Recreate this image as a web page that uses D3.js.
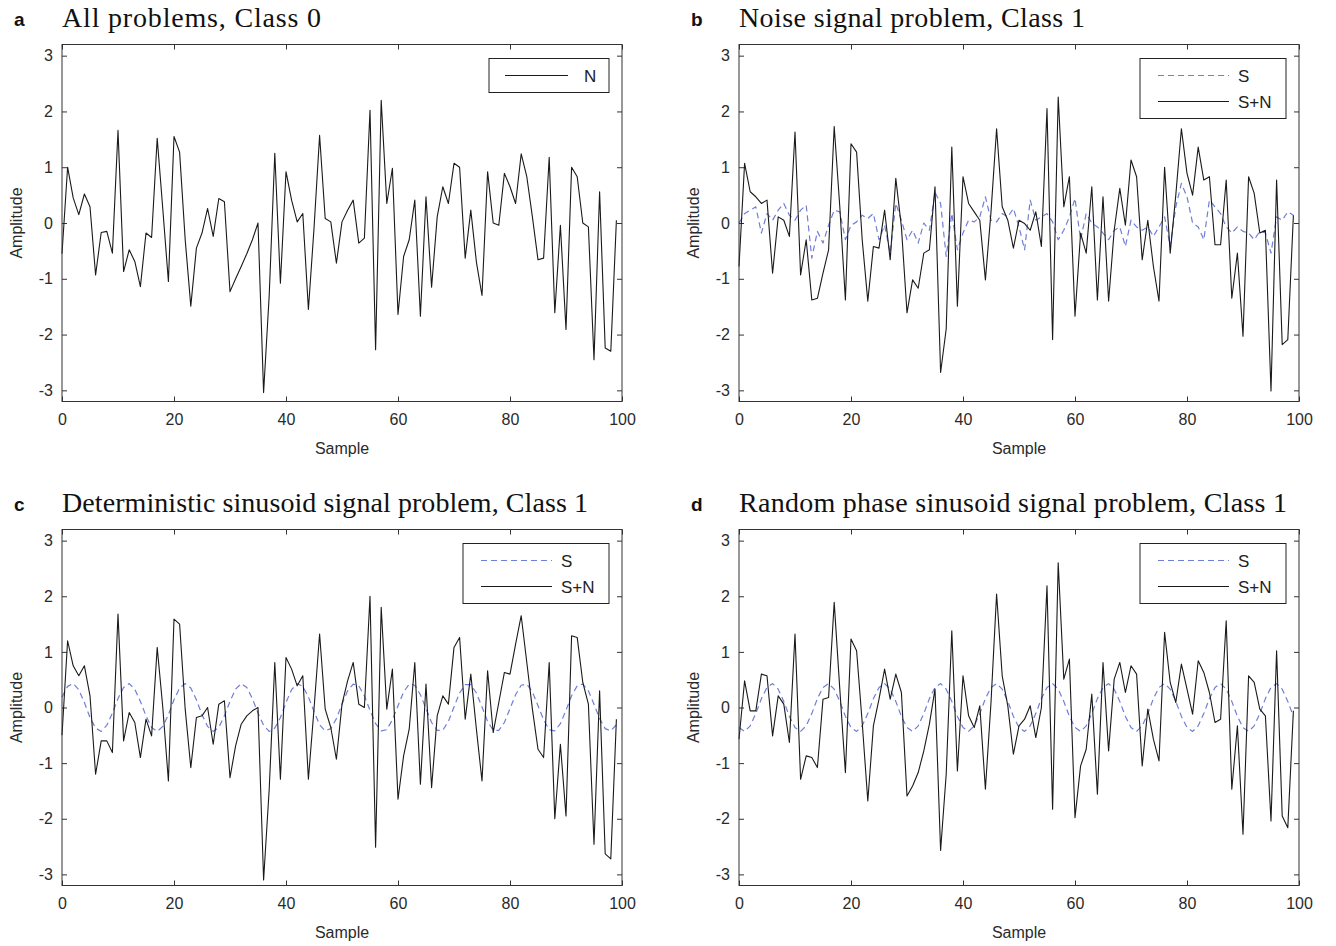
<!DOCTYPE html>
<html>
<head>
<meta charset="utf-8">
<script src="https://cdn.jsdelivr.net/npm/d3@7"></script>
<style>
  body { margin: 0; background: #fff; }
  svg text { font-family: "Liberation Sans", Arial, sans-serif; }
</style>
</head>
<body>
<svg id="chart"></svg>
<script>
// ---- data (one value per sample, samples 0..99) ----
const noiseA = [
  -0.55, 1.0, 0.45, 0.15, 0.52, 0.29, -0.93, -0.17, -0.15, -0.54,
  1.66, -0.87, -0.48, -0.69, -1.14, -0.18, -0.26, 1.52, 0.25, -1.05,
  1.55, 1.27, -0.3, -1.49, -0.45, -0.18, 0.26, -0.24, 0.44, 0.38,
  -1.23, -1.0, -0.78, -0.55, -0.3, 0.0, -3.04, -1.3, 1.25, -1.08,
  0.92, 0.41, 0.02, 0.17, -1.55, -0.1, 1.57, 0.08, 0.02, -0.72,
  0.02, 0.23, 0.41, -0.36, -0.27, 2.02, -2.27, 2.2, 0.35, 0.98,
  -1.64, -0.6, -0.3, 0.41, -1.67, 0.47, -1.15, 0.11, 0.65, 0.35,
  1.07, 1.0, -0.63, 0.23, -0.7, -1.3, 0.92, 0.0, -0.04, 0.89,
  0.65, 0.35, 1.24, 0.83, 0.11, -0.66, -0.63, 1.18, -1.61, -0.04,
  -1.91, 1.0, 0.83, 0.0, -0.07, -2.45, 0.56, -2.24, -2.3, 0.05
];

const signalB = [
  0.0, 0.17, 0.23, 0.29, -0.18, 0.17, 0.05, 0.23, 0.35, 0.14,
  0.05, 0.23, 0.32, -0.63, -0.15, -0.36, -0.04, 0.23, 0.2, -0.3,
  -0.04, 0.02, 0.14, 0.08, 0.17, -0.3, -0.04, -0.54, 0.35, 0.05,
  -0.3, -0.13, -0.36, 0.0, -0.13, 0.55, 0.35, -0.6, 0.17, -0.48,
  -0.18, 0.05, 0.02, 0.11, 0.47, 0.05, 0.02, 0.17, 0.11, 0.26,
  -0.07, -0.48, 0.41, 0.05, 0.11, 0.17, 0.02, -0.3, -0.13, 0.11,
  0.44, -0.3, 0.17, 0.0, -0.07, -0.18, -0.3, -0.13, -0.07, -0.42,
  0.05, -0.07, -0.13, -0.07, -0.24, -0.07, 0.11, -0.42, 0.29, 0.71,
  0.47, 0.0, -0.07, -0.3, 0.41, 0.29, 0.17, -0.07, -0.18, -0.07,
  -0.15, -0.18, -0.3, -0.15, -0.18, -0.54, 0.11, 0.05, 0.2, 0.14
];

const mixB = [
  -0.78, 1.07, 0.56, 0.47, 0.35, 0.41, -0.9, 0.11, 0.05, -0.24,
  1.63, -0.93, -0.3, -1.38, -1.35, -0.9, -0.48, 1.73, 0.29, -1.38,
  1.42, 1.27, -0.3, -1.4, -0.42, -0.45, 0.23, -0.66, 0.8, -0.07,
  -1.61, -1.02, -1.17, -0.54, -0.48, 0.65, -2.68, -1.9, 1.36, -1.49,
  0.83, 0.35, 0.2, 0.05, -1.02, 0.2, 1.69, 0.29, 0.05, -0.45,
  0.05, -0.01, -0.13, 0.2, -0.42, 2.05, -2.09, 2.26, 0.29, 0.83,
  -1.67, -0.18, -0.54, 0.65, -1.38, 0.47, -1.4, -0.13, 0.62, -0.04,
  1.13, 0.83, -0.66, 0.05, -0.78, -1.4, 1.0, -0.54, 0.5, 1.69,
  0.89, 0.5, 1.36, 0.77, 0.83, -0.39, -0.39, 0.77, -1.35, -0.54,
  -2.03, 0.83, 0.53, -0.18, -0.13, -3.01, 0.77, -2.18, -2.09, 0.14
];

const signalC = [
  0.19, 0.38, 0.43, 0.32, 0.09, -0.18, -0.37, -0.43, -0.32, -0.1,
  0.16, 0.36, 0.43, 0.33, 0.11, -0.15, -0.36, -0.43, -0.34, -0.13,
  0.14, 0.35, 0.43, 0.35, 0.14, -0.13, -0.34, -0.43, -0.36, -0.15,
  0.11, 0.33, 0.43, 0.36, 0.16, -0.1, -0.32, -0.43, -0.37, -0.18,
  0.09, 0.32, 0.43, 0.38, 0.19, -0.07, -0.31, -0.42, -0.38, -0.2,
  0.06, 0.3, 0.42, 0.39, 0.21, -0.05, -0.29, -0.42, -0.4, -0.22,
  0.03, 0.28, 0.42, 0.4, 0.23, -0.02, -0.27, -0.41, -0.41, -0.25,
  0.01, 0.26, 0.41, 0.41, 0.26, 0.01, -0.25, -0.41, -0.41, -0.27,
  -0.02, 0.23, 0.4, 0.42, 0.28, 0.03, -0.22, -0.4, -0.42, -0.29,
  -0.05, 0.21, 0.39, 0.42, 0.3, 0.06, -0.2, -0.38, -0.42, -0.31
];

const mixC = [
  -0.5, 1.2, 0.75, 0.57, 0.75, 0.21, -1.2, -0.6, -0.6, -0.81,
  1.68, -0.6, -0.09, -0.27, -0.9, -0.21, -0.51, 1.08, 0.0, -1.32,
  1.59, 1.5, -0.03, -1.08, -0.18, -0.15, 0.0, -0.66, 0.06, 0.12,
  -1.26, -0.69, -0.3, -0.15, -0.06, 0.0, -3.1, -1.47, 0.81, -1.29,
  0.9, 0.69, 0.39, 0.57, -1.29, -0.03, 1.32, -0.03, -0.36, -0.93,
  0.06, 0.48, 0.81, 0.06, 0.0, 2.0, -2.51, 1.8, -0.03, 0.69,
  -1.65, -0.87, -0.39, 0.81, -1.38, 0.42, -1.44, -0.15, 0.21, 0.06,
  1.08, 1.26, -0.21, 0.6, -0.39, -1.32, 0.66, -0.45, 0.09, 0.63,
  0.6, 1.14, 1.65, 0.81, -0.03, -0.75, -0.9, 0.81, -2.0, -0.66,
  -1.95, 1.29, 1.26, 0.45, 0.06, -2.46, 0.3, -2.63, -2.72, -0.21
];

const signalD = [
  -0.36, -0.43, -0.33, -0.11, 0.16, 0.36, 0.43, 0.33, 0.11, -0.16,
  -0.36, -0.43, -0.33, -0.11, 0.16, 0.36, 0.43, 0.33, 0.11, -0.16,
  -0.36, -0.43, -0.33, -0.11, 0.16, 0.36, 0.43, 0.33, 0.11, -0.16,
  -0.36, -0.43, -0.33, -0.11, 0.16, 0.36, 0.43, 0.33, 0.11, -0.16,
  -0.36, -0.43, -0.33, -0.11, 0.16, 0.36, 0.43, 0.33, 0.11, -0.16,
  -0.36, -0.43, -0.33, -0.11, 0.16, 0.36, 0.43, 0.33, 0.11, -0.16,
  -0.36, -0.43, -0.33, -0.11, 0.16, 0.36, 0.43, 0.33, 0.11, -0.16,
  -0.36, -0.43, -0.33, -0.11, 0.16, 0.36, 0.43, 0.33, 0.11, -0.16,
  -0.36, -0.43, -0.33, -0.11, 0.16, 0.36, 0.43, 0.33, 0.11, -0.16,
  -0.36, -0.43, -0.33, -0.11, 0.16, 0.36, 0.43, 0.33, 0.11, -0.16
];

const mixD = [
  -0.57, 0.48, -0.06, -0.06, 0.6, 0.57, -0.51, 0.21, 0.06, -0.63,
  1.32, -1.29, -0.87, -0.9, -1.08, 0.15, 0.18, 1.89, 0.33, -1.17,
  1.23, 1.02, -0.27, -1.68, -0.33, 0.15, 0.69, 0.15, 0.6, 0.27,
  -1.59, -1.41, -1.17, -0.78, -0.3, 0.33, -2.57, -1.2, 1.38, -1.14,
  0.57, -0.15, -0.36, 0.03, -1.47, 0.09, 2.04, 0.57, 0.03, -0.84,
  -0.33, -0.21, 0.03, -0.54, 0.0, 2.19, -1.83, 2.6, 0.51, 0.87,
  -1.98, -1.05, -0.75, 0.24, -1.56, 0.81, -0.78, 0.51, 0.81, 0.27,
  0.75, 0.6, -1.05, -0.03, -0.57, -0.96, 1.35, 0.45, 0.09, 0.78,
  0.33, -0.12, 0.84, 0.63, 0.27, -0.27, -0.21, 1.56, -1.47, -0.33,
  -2.28, 0.57, 0.45, -0.03, -0.15, -2.04, 1.02, -1.95, -2.16, -0.06
];

const xTicks = [0, 20, 40, 60, 80, 100];
const yTicks = [-3, -2, -1, 0, 1, 2, 3];
const panelLetters = ['a', 'b', 'c', 'd'];
const panelTitles = [
  'All problems, Class 0',
  'Noise signal problem, Class 1',
  'Deterministic sinusoid signal problem, Class 1',
  'Random phase sinusoid signal problem, Class 1'
];
const xLabel = 'Sample';
const yLabel = 'Amplitude';

// ---- layout ----
const W = 1336, H = 946;
const blue = '#6f7ed8';
const ink = '#1a1a1a';
const labelFont = 16;

const panels = [
  { x: 62,  y: 44.5,  w: 560, h: 357, titleW: 259, legendW: 120,
    series: [{ values: noiseA, label: 'N', dashed: false }] },
  { x: 739, y: 44.5,  w: 560, h: 357, titleW: 346, legendW: 146,
    series: [{ values: signalB, label: 'S', dashed: true }, { values: mixB, label: 'S+N', dashed: false }] },
  { x: 62,  y: 529.5, w: 560, h: 356, titleW: 526, legendW: 146,
    series: [{ values: signalC, label: 'S', dashed: true }, { values: mixC, label: 'S+N', dashed: false }] },
  { x: 739, y: 529.5, w: 560, h: 356, titleW: 548, legendW: 146,
    series: [{ values: signalD, label: 'S', dashed: true }, { values: mixD, label: 'S+N', dashed: false }] }
];

const svg = d3.select('#chart').attr('width', W).attr('height', H);
svg.append('rect').attr('width', W).attr('height', H).attr('fill', '#fff');

const tickFmt = (d) => String(d);

panels.forEach((p, k) => {
  const g = svg.append('g').attr('transform', `translate(${p.x},${p.y})`);
  const x = d3.scaleLinear().domain([0, 100]).range([0, p.w]);
  const y = d3.scaleLinear().domain([-3.2, 3.2]).range([p.h, 0]);

  // panel letter + title
  svg.append('text').attr('x', p.x - 48).attr('y', p.y - 19)
    .attr('font-size', 19).attr('font-weight', 'bold').attr('fill', '#111')
    .text(panelLetters[k]);
  svg.append('text').attr('x', p.x).attr('y', p.y - 18)
    .style('font-family', '"Liberation Serif", "Times New Roman", serif')
    .attr('font-size', 28).attr('fill', '#111')
    .attr('textLength', p.titleW).attr('lengthAdjust', 'spacing')
    .text(panelTitles[k]);

  // axes (MATLAB style: inward ticks on all four sides)
  const styleAxis = (sel) => {
    sel.selectAll('.domain').remove();
    sel.selectAll('.tick line').attr('stroke', '#333');
    sel.selectAll('.tick text').attr('fill', '#2a2a2a').attr('font-size', labelFont)
      .style('font-family', '"Liberation Sans", Arial, sans-serif');
  };
  g.append('g').attr('transform', `translate(0,${p.h})`)
    .call(d3.axisBottom(x).tickValues(xTicks).tickFormat(tickFmt)
      .tickSizeInner(-5).tickSizeOuter(0).tickPadding(12))
    .call(styleAxis);
  g.append('g')
    .call(d3.axisTop(x).tickValues(xTicks).tickSizeInner(-5).tickSizeOuter(0).tickFormat(''))
    .call(styleAxis);
  g.append('g')
    .call(d3.axisLeft(y).tickValues(yTicks).tickFormat(tickFmt)
      .tickSizeInner(-5).tickSizeOuter(0).tickPadding(9))
    .call(styleAxis);
  g.append('g').attr('transform', `translate(${p.w},0)`)
    .call(d3.axisRight(y).tickValues(yTicks).tickSizeInner(-5).tickSizeOuter(0).tickFormat(''))
    .call(styleAxis);

  // lines
  const line = d3.line().x((d, i) => x(i)).y((d) => y(d));
  p.series.forEach((s) => {
    g.append('path').datum(s.values).attr('d', line)
      .attr('fill', 'none')
      .attr('stroke', s.dashed ? blue : ink)
      .attr('stroke-width', s.dashed ? 1.2 : 1.1)
      .attr('stroke-dasharray', s.dashed ? '6,4' : null)
      .attr('stroke-linejoin', 'round');
  });

  // frame
  g.append('rect').attr('width', p.w).attr('height', p.h)
    .attr('fill', 'none').attr('stroke', '#333').attr('stroke-width', 1);

  // axis labels
  g.append('text').attr('x', p.w / 2).attr('y', p.h + 52)
    .attr('text-anchor', 'middle').attr('font-size', labelFont).attr('fill', '#2a2a2a')
    .text(xLabel);
  g.append('text')
    .attr('transform', `translate(${-40},${p.h / 2}) rotate(-90)`)
    .attr('text-anchor', 'middle').attr('font-size', labelFont).attr('fill', '#2a2a2a')
    .text(yLabel);

  // legend
  const rowH = 26;
  const single = p.series.length === 1;
  const lh = p.series.length * rowH + 8;
  const lg = g.append('g').attr('transform', `translate(${p.w - 13 - p.legendW},14)`);
  lg.append('rect').attr('width', p.legendW).attr('height', lh)
    .attr('fill', '#fff').attr('stroke', '#222').attr('stroke-width', 1);
  p.series.forEach((s, j) => {
    const cy = 17 + j * rowH;
    lg.append('line').attr('x1', single ? 16 : 18).attr('x2', single ? 79 : 89)
      .attr('y1', cy).attr('y2', cy)
      .attr('stroke', s.dashed ? blue : ink)
      .attr('stroke-width', 1.2)
      .attr('stroke-dasharray', s.dashed ? '6,4' : null);
    lg.append('text').attr('x', single ? 95 : 98).attr('y', cy + 6)
      .attr('font-size', 17).attr('fill', '#222')
      .text(s.label);
  });
});
</script>
</body>
</html>
